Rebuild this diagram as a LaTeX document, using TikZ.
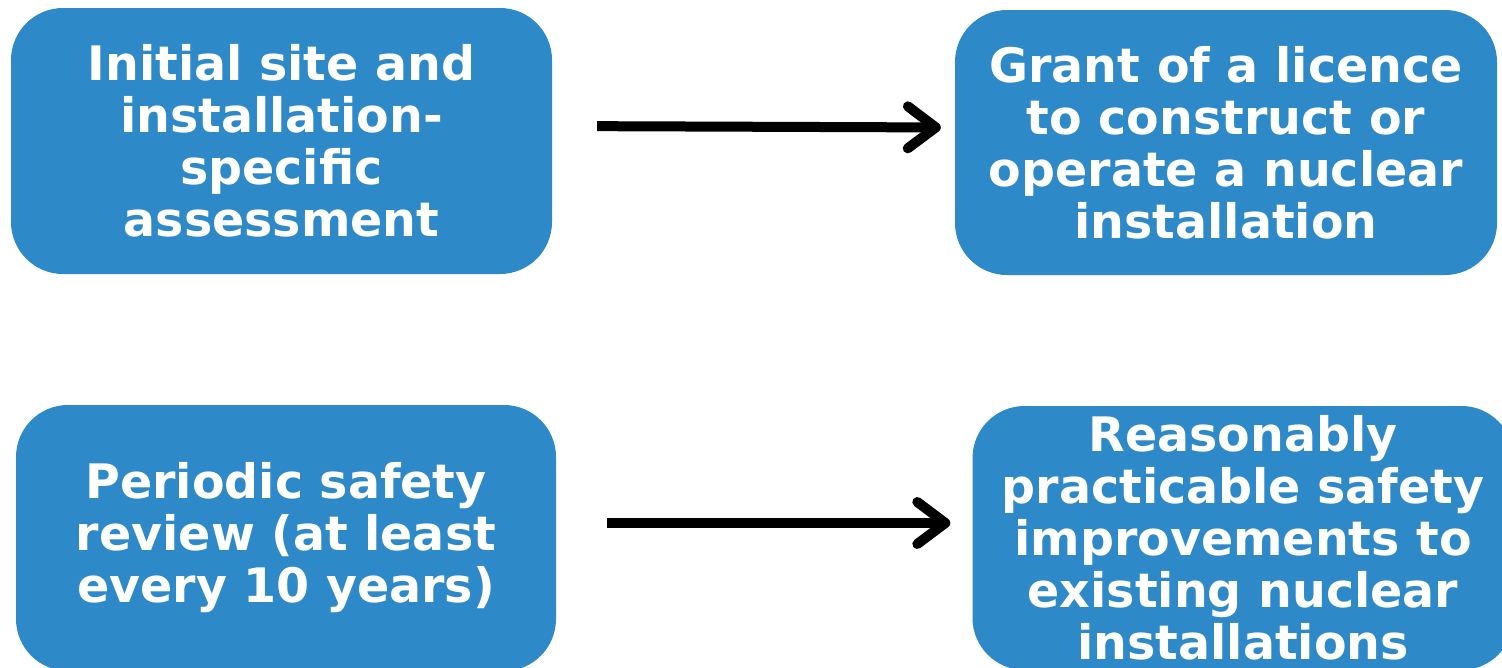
\documentclass[tikz,border=0pt]{standalone}
\usepackage{fontspec}
\setmainfont{DejaVu Sans}
\usepackage{tikz}
\usetikzlibrary{arrows.meta, positioning}
\definecolor{boxblue}{RGB}{46,137,201}
\tikzstyle{bluebox} = [rectangle, rounded corners=52pt, fill=boxblue, text=white, inner sep=0pt, align=center, font=\fontsize{47.5}{52}\selectfont\bfseries]
\tikzstyle{arrow} = [line width=10pt, -{Straight Barb[length=28pt, width=42pt, round]}]

\begin{document}
\begin{tikzpicture}[x=1pt, y=-1pt]
\useasboundingbox (0,0) rectangle (1502,667);
\node[bluebox, minimum width=541pt, minimum height=266pt] (init) at (281.5,141) {Initial site and\\installation-\\specific\\assessment};
\node[bluebox, minimum width=542pt, minimum height=265pt] (grant) at (1226,142.5) {Grant of a licence\\to construct or\\operate a nuclear\\installation};
\node[bluebox, minimum width=540pt, minimum height=266pt] (psr) at (286,538) {Periodic safety\\review (at least\\every 10 years)};
\node[bluebox, minimum width=541pt, minimum height=264pt] (impr) at (1243,538) {Reasonably\\practicable safety\\improvements to\\existing nuclear\\installations};
\draw[arrow, shorten <=45pt, shorten >=14pt] ([yshift=15pt]init.east) -- ([yshift=15pt]grant.west);
\draw[arrow, shorten <=51pt, shorten >=22pt] ([yshift=15pt]psr.east) -- ([yshift=15pt]impr.west);
\end{tikzpicture}
\end{document}
